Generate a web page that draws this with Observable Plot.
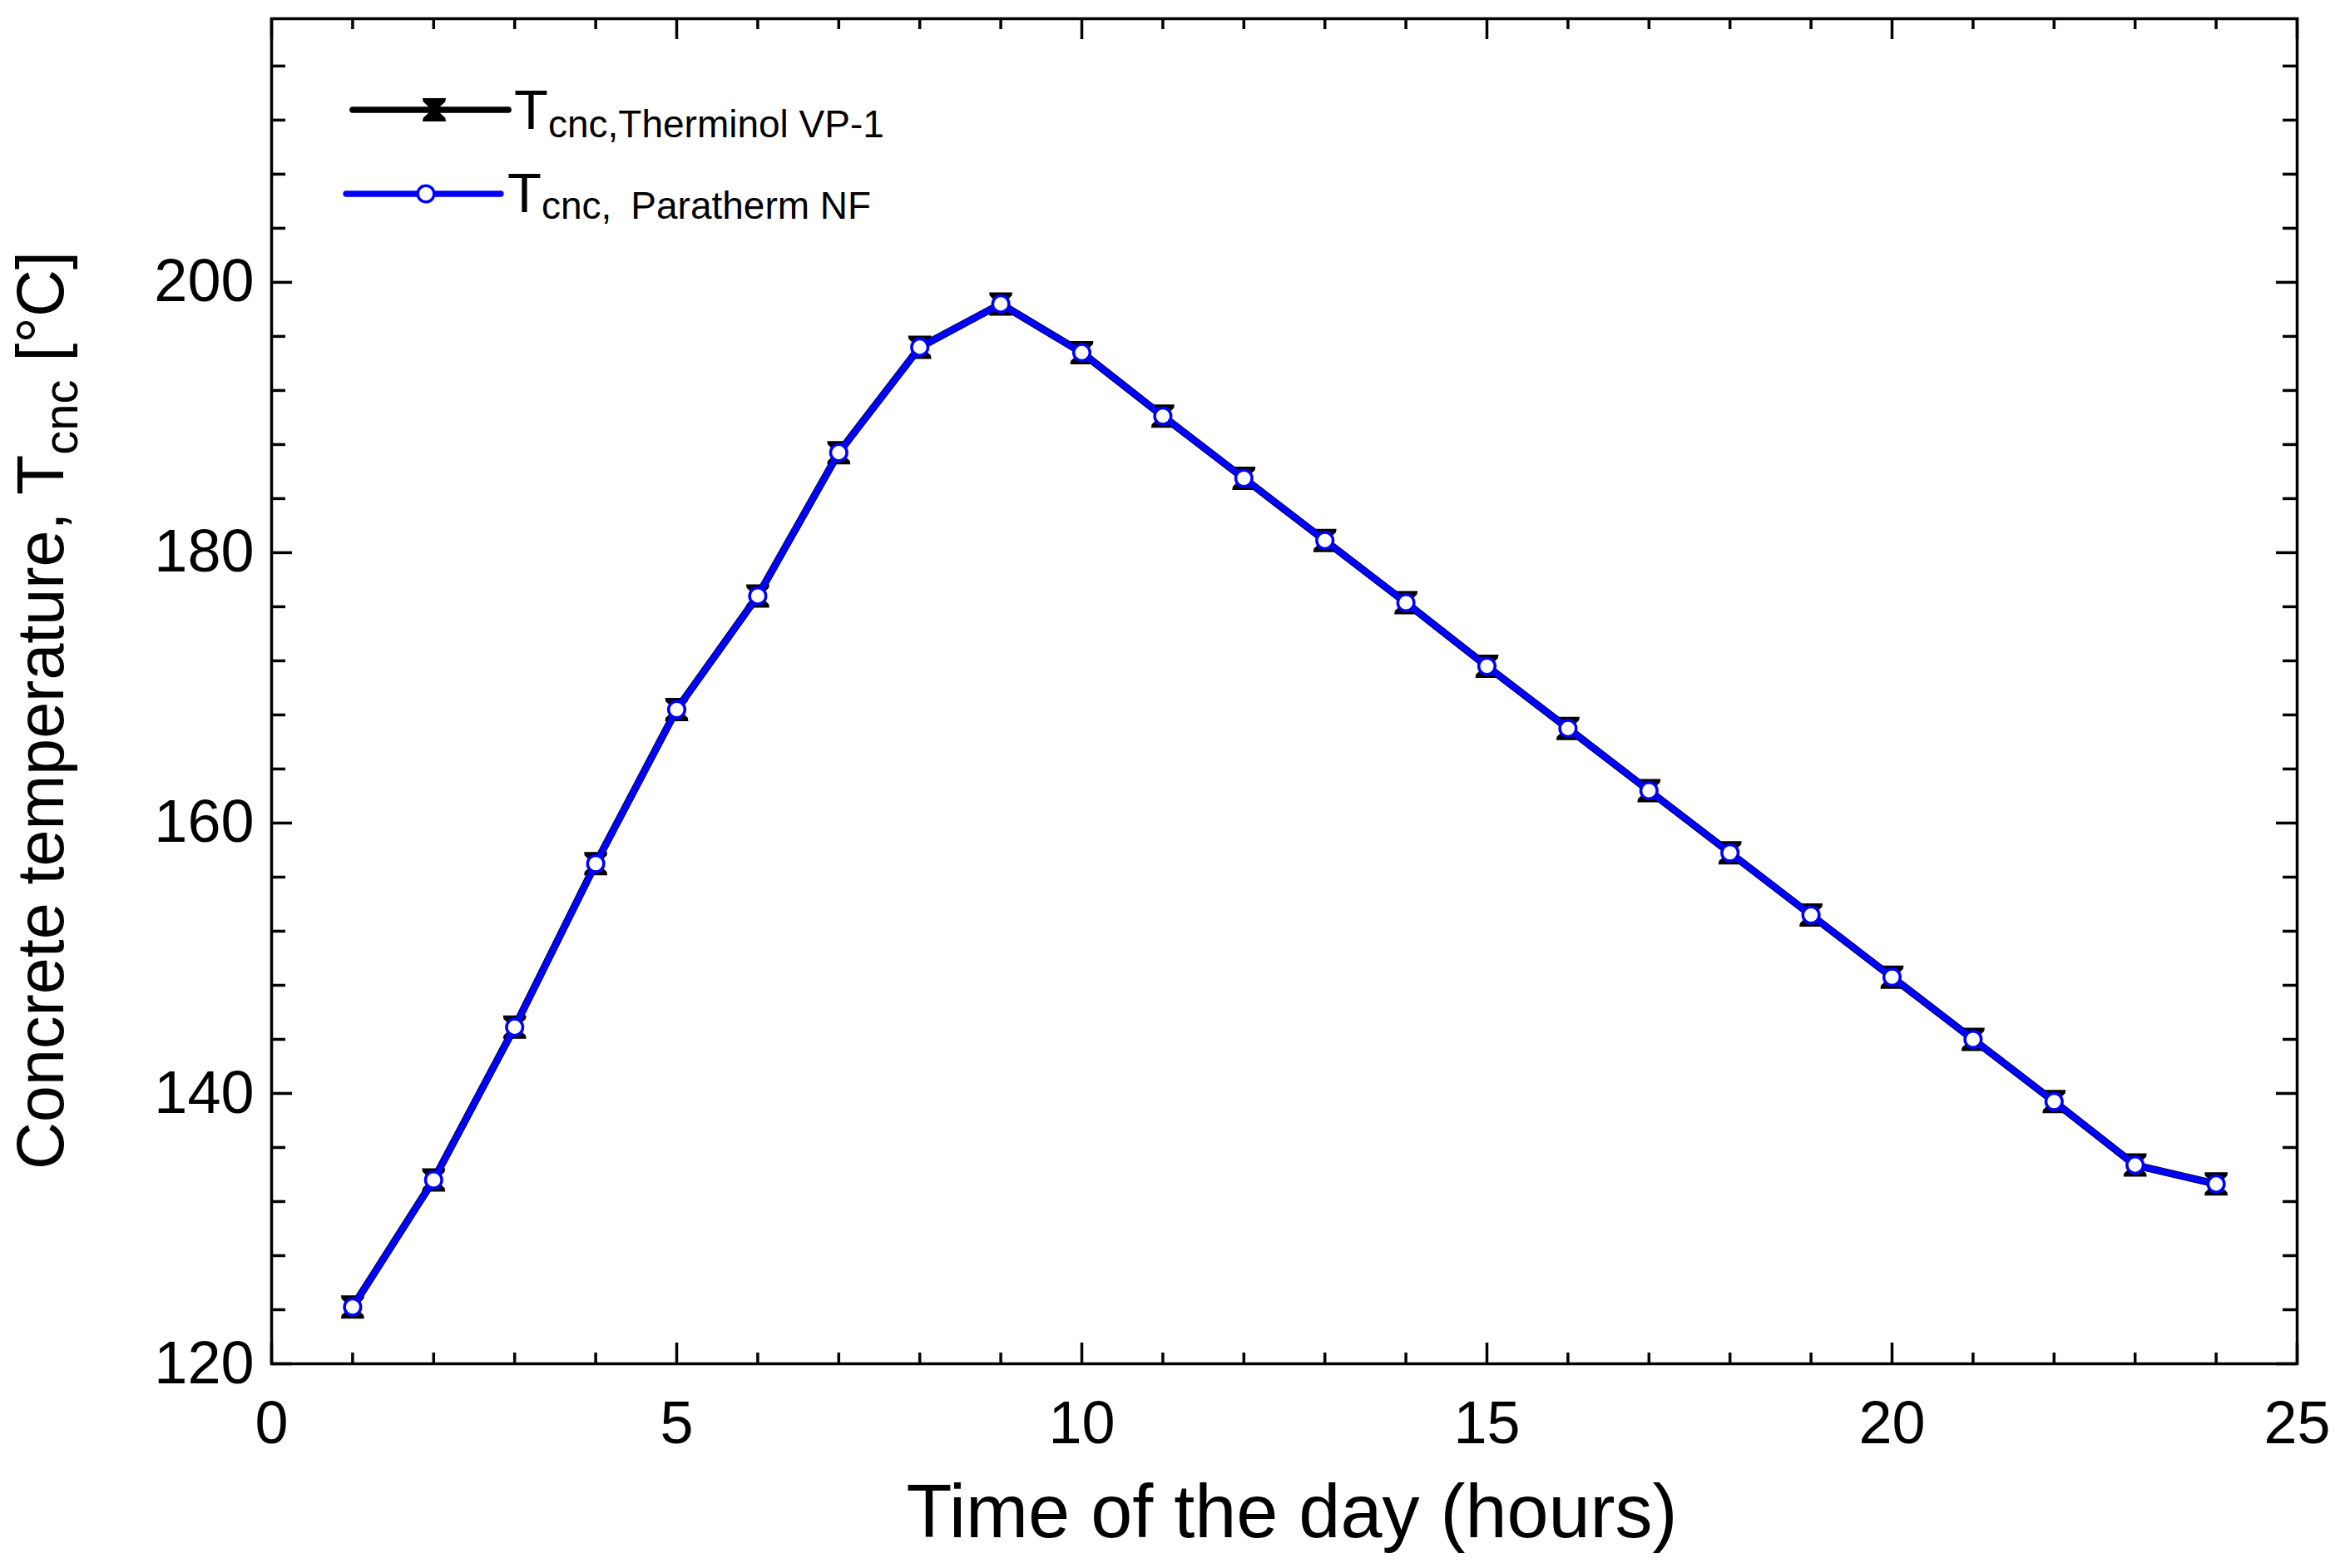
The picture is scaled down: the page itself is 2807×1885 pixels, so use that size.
<!DOCTYPE html>
<html><head><meta charset="utf-8">
<script src="https://cdn.jsdelivr.net/npm/d3@7"></script>
<script src="https://cdn.jsdelivr.net/npm/@observablehq/plot@0.6"></script>
<style>html,body{margin:0;padding:0;background:#fff;overflow:hidden}</style>
</head><body><div id="chart"></div>
<script>
// ---- data ----
const hours = [1,2,3,4,5,6,7,8,9,10,11,12,13,14,15,16,17,18,19,20,21,22,23,24];
const therminol = [124.2,133.6,144.9,157.0,168.4,176.8,187.4,195.2,198.4,194.8,190.1,185.5,180.9,176.3,171.6,167.0,162.4,157.8,153.2,148.6,144.0,139.4,134.7,133.3];
const paratherm = [124.2,133.6,144.9,157.0,168.4,176.8,187.4,195.2,198.4,194.8,190.1,185.5,180.9,176.3,171.6,167.0,162.4,157.8,153.2,148.6,144.0,139.4,134.7,133.3];
const xTicks = [0,5,10,15,20,25];
const xMinor = [1,2,3,4,6,7,8,9,11,12,13,14,16,17,18,19,21,22,23,24];
const yTicks = [120,140,160,180,200];
const yMinor = [124,128,132,136,144,148,152,156,164,168,172,176,184,188,192,196,204,208,212,216];
const xDomain = [0,25];
const yDomain = [120,219.5];
const legendLabels = ["cnc,Therminol VP-1", "cnc,\u2002Paratherm NF"];

const W = 2807, H = 1885;
const mL = 326, mR = 46, mT = 22, mB = 246;
const pw = W - mL - mR, ph = H - mT - mB;

const dataT = hours.map((h,i)=>({hour:h, t:therminol[i]}));
const dataP = hours.map((h,i)=>({hour:h, t:paratherm[i]}));

const hourglass = {
  draw(ctx, size) {
    const r = Math.sqrt(size/Math.PI);
    ctx.moveTo(-r,-r); ctx.lineTo(r,-r); ctx.lineTo(r*0.95,-0.7*r); ctx.lineTo(0.2*r,0);
    ctx.lineTo(r*0.95,0.7*r); ctx.lineTo(r,r); ctx.lineTo(-r,r); ctx.lineTo(-r*0.95,0.7*r);
    ctx.lineTo(-0.2*r,0); ctx.lineTo(-r*0.95,-0.7*r); ctx.closePath();
  }
};

const tickW = 3.5;
const plot = Plot.plot({
  width: W, height: H,
  marginLeft: mL, marginRight: mR, marginTop: mT, marginBottom: mB,
  style: {fontFamily: "'Liberation Sans', Arial, sans-serif", color: "black", background: "white", overflow: "visible"},
  x: {domain: xDomain},
  y: {domain: yDomain},
  marks: [
    Plot.ruleX(xMinor, {x: d=>d, insetTop: ph-13, stroke: "black", strokeWidth: tickW}),
    Plot.ruleX(xMinor, {x: d=>d, insetBottom: ph-13, stroke: "black", strokeWidth: tickW}),
    Plot.ruleX(xTicks, {x: d=>d, insetTop: ph-25, stroke: "black", strokeWidth: tickW}),
    Plot.ruleX(xTicks, {x: d=>d, insetBottom: ph-25, stroke: "black", strokeWidth: tickW}),
    Plot.ruleY(yMinor, {y: d=>d, insetRight: pw-17, stroke: "black", strokeWidth: tickW}),
    Plot.ruleY(yMinor, {y: d=>d, insetLeft: pw-17, stroke: "black", strokeWidth: tickW}),
    Plot.ruleY(yTicks, {y: d=>d, insetRight: pw-25, stroke: "black", strokeWidth: tickW}),
    Plot.ruleY(yTicks, {y: d=>d, insetLeft: pw-25, stroke: "black", strokeWidth: tickW}),
    Plot.axisX({ticks: xTicks, tickSize: 0, tickPadding: 44, fontSize: 72, label: null, tickFormat: d=>String(d)}),
    Plot.axisY({ticks: yTicks, tickSize: 0, tickPadding: 21, fontSize: 72, label: null, tickFormat: d=>String(d)}),
    Plot.line(dataT, {x: "hour", y: "t", stroke: "black", strokeWidth: 9}),
    Plot.dot(dataT, {x: "hour", y: "t", symbol: hourglass, r: 14, fill: "black", stroke: "none"}),
    Plot.line(dataP, {x: "hour", y: "t", stroke: "#0000ff", strokeWidth: 7.5}),
    Plot.dot(dataP, {x: "hour", y: "t", r: 9.8, fill: "white", stroke: "#0000ff", strokeWidth: 3.5}),
    Plot.frame({stroke: "black", strokeWidth: 3.5})
  ]
});
document.getElementById("chart").appendChild(plot);

const svg = d3.select(plot);
const ff = "'Liberation Sans', Arial, sans-serif";

// axis titles
svg.append("text").attr("x", 1553).attr("y", 1848).attr("text-anchor","middle")
  .attr("font-family", ff).attr("font-size", 90).attr("fill","black").text("Time of the day (hours)");

const yt = svg.append("text").attr("transform","translate(76,854) rotate(-90)").attr("text-anchor","middle")
  .attr("font-family", ff).attr("fill","black");
yt.append("tspan").attr("font-size",79).text("Concrete temperature, T");
yt.append("tspan").attr("font-size",58).attr("dy",17).text("cnc");
yt.append("tspan").attr("font-size",79).attr("dy",-17).text(" [°C]");

// legend
const lg = svg.append("g");
lg.append("line").attr("x1",424).attr("x2",611).attr("y1",132).attr("y2",132)
  .attr("stroke","black").attr("stroke-width",7.7).attr("stroke-linecap","round");
lg.append("path").attr("transform","translate(522,132)")
  .attr("d", d3.symbol(hourglass, Math.PI*14*14)()).attr("fill","black");
lg.append("line").attr("x1",416).attr("x2",602).attr("y1",233).attr("y2",233)
  .attr("stroke","#0000ff").attr("stroke-width",7.3).attr("stroke-linecap","round");
lg.append("circle").attr("cx",512).attr("cy",233).attr("r",9.8)
  .attr("fill","white").attr("stroke","#0000ff").attr("stroke-width",3.5);

const l1 = lg.append("text").attr("x",618).attr("y",155).attr("text-anchor","start")
  .attr("font-family",ff).attr("fill","black");
l1.append("tspan").attr("font-size",67).text("T");
l1.append("tspan").attr("font-size",46).attr("dy",10).text(legendLabels[0]);
const l2 = lg.append("text").attr("x",610).attr("y",255).attr("text-anchor","start")
  .attr("font-family",ff).attr("fill","black");
l2.append("tspan").attr("font-size",67).text("T");
l2.append("tspan").attr("font-size",46).attr("dy",8).text(legendLabels[1]);
</script>
</body></html>
